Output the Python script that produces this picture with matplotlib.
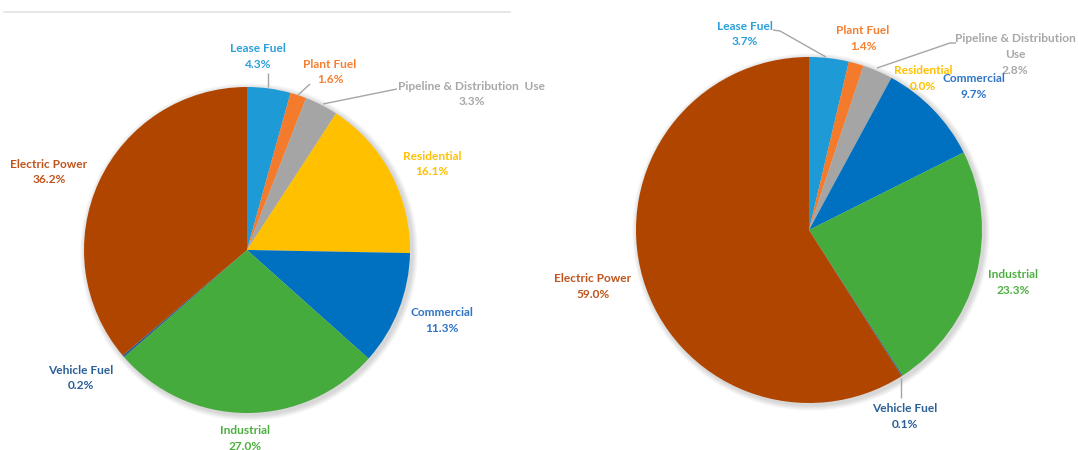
import matplotlib
matplotlib.use("Agg")
import matplotlib.pyplot as plt
from matplotlib.patches import Circle

# Natural gas consumption shares by sector (%)
categories = ["Lease Fuel", "Plant Fuel", "Pipeline & Distribution Use", "Residential",
              "Commercial", "Industrial", "Vehicle Fuel", "Electric Power"]
shares_left = [4.3, 1.6, 3.3, 16.1, 11.3, 27.0, 0.2, 36.2]
shares_right = [3.7, 1.4, 2.8, 0.0, 9.7, 23.3, 0.1, 59.0]

slice_colors = ["#1E9BD7", "#F47A2C", "#A5A5A5", "#FFC000",
                "#0070C0", "#45AB3C", "#255E91", "#B04500"]
text_colors = ["#2A9FDA", "#F57F30", "#A8A8A8", "#FFC000",
               "#2F74C6", "#4DAF40", "#2A5F98", "#C0541C"]

W, H = 1078, 450
fig = plt.figure(figsize=(W / 100, H / 100), dpi=100)
ax = fig.add_axes([0, 0, 1, 1])
FONT = ["Lato", "DejaVu Sans"]


def Y(y):
    return H - y


def draw_pie(values, cx, cy, r):
    # soft drop shadow
    for k in range(8):
        ax.add_patch(Circle((cx + 2, Y(cy) - 2), r + 1 + k * 0.7,
                            facecolor="#000000", alpha=0.018, lw=0, zorder=1))
    ax.pie(values, colors=slice_colors, startangle=90, counterclock=False,
           center=(cx, Y(cy)), radius=r,
           wedgeprops=dict(linewidth=0, zorder=2))


def label(name_lines, value, x, y, color, gap=15.5):
    lines = name_lines + [f"{value:.1f}%"]
    for i, t in enumerate(lines):
        ax.text(x, Y(y + i * gap), t, ha="center", va="center", color=color,
                fontsize=8.6, fontweight="bold", family=FONT, zorder=5)


def leader(points):
    xs = [p[0] for p in points]
    ys = [Y(p[1]) for p in points]
    ax.plot(xs, ys, color="#A5A5A5", lw=1.0, zorder=4, solid_capstyle="butt")


# left pie
draw_pie(shares_left, 247, 250, 163)
left_pos = [(258, 49), (330, 64), (472, 86), (432, 156),
            (442, 313), (245, 431), (81, 370), (49, 164)]
for i, (x, y) in enumerate(left_pos):
    name = [categories[i]] if i != 2 else ["Pipeline & Distribution  Use"]
    label(name, shares_left[i], x, y, text_colors[i])
leader([(268, 87), (268, 73)])
leader([(298, 95), (310, 84)])
leader([(323, 104), (397, 89)])

# right pie
draw_pie(shares_right, 809, 230, 173)
right_pos = [(745, 26), (863, 31), (1015, 39), (923, 71),
             (974, 79), (1013, 275), (905, 409), (593, 279)]
for i, (x, y) in enumerate(right_pos):
    name = [categories[i]] if i != 2 else ["Pipeline & Distribution", "Use"]
    label(name, shares_right[i], x, y, text_colors[i])
leader([(773, 30), (780, 31), (826, 57)])
leader([(877, 68), (950, 43), (956, 43)])
leader([(901, 378), (901, 398)])

# thin rule along the top of the left panel
ax.plot([4, 510], [Y(12), Y(12)], color="#E3E3E3", lw=1.2, zorder=0)

ax.set_xlim(0, W)
ax.set_ylim(0, H)
ax.set_aspect("auto")
ax.axis("off")
fig.savefig("out.png", dpi=100, facecolor="white")
